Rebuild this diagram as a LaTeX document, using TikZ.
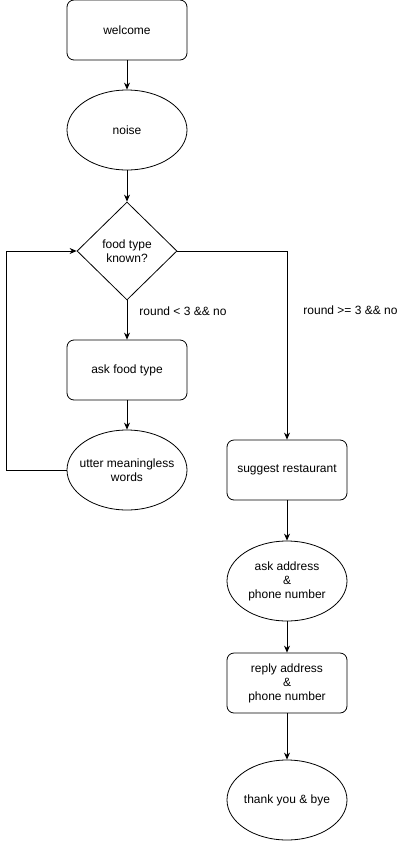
\documentclass[tikz,border=0pt]{standalone}
\usepackage{fontspec}
\setmainfont{Liberation Sans}
\usetikzlibrary{shapes.geometric,arrows.meta}

\begin{document}
\begin{tikzpicture}[x=1pt,y=-1pt,
  every node/.style={font=\fontsize{12}{14}\selectfont, align=center},
  stepbox/.style={draw, rectangle, rounded corners=7pt, minimum width=120pt, minimum height=60pt, line width=0.8pt},
  talkbox/.style={draw, ellipse, minimum width=120pt, minimum height=80pt, inner xsep=-20pt, inner ysep=0pt, line width=0.8pt},
  choice/.style={draw, diamond, minimum width=100pt, minimum height=98pt, inner sep=0pt, line width=0.8pt},
  flow/.style={-{Stealth[length=7pt,width=6pt]}, line width=0.8pt}]

\useasboundingbox (0,0) rectangle (413,841);

\node[stepbox] at (127,30) (welcome) {welcome};
\node[talkbox] at (127,130) (noise) {noise};
\node[choice] at (127,251) (known) {food type\\known?};
\node[stepbox] at (127,370) (askfood) {ask food type};
\node[talkbox] at (127,470) (utter) {utter meaningless\\words};
\node[stepbox] at (287,470) (suggest) {suggest restaurant};
\node[talkbox] at (287,581) (askaddr) {ask address\\\&\\phone number};
\node[stepbox] at (287,683) (reply) {reply address\\\&\\phone number};
\node[talkbox] at (287,800) (bye) {thank you \& bye};

\draw[flow] (welcome) -- (noise);
\draw[flow] (noise) -- (known);
\draw[flow] (known) -- node[pos=0.275,right,xshift=8.7pt] (lowround) {round < 3 \&\& no} (askfood);
\draw[flow] (askfood) -- (utter);
\draw[flow] (utter.west) -- ++(-60,0) |- (known.west);
\draw[flow] (known.east) -| node[pos=0.658,right,xshift=12.7pt] (highround) {round >= 3 \&\& no} (suggest.north);
\draw[flow] (suggest) -- (askaddr);
\draw[flow] (askaddr) -- (reply);
\draw[flow] (reply) -- (bye);

\end{tikzpicture}
\end{document}
